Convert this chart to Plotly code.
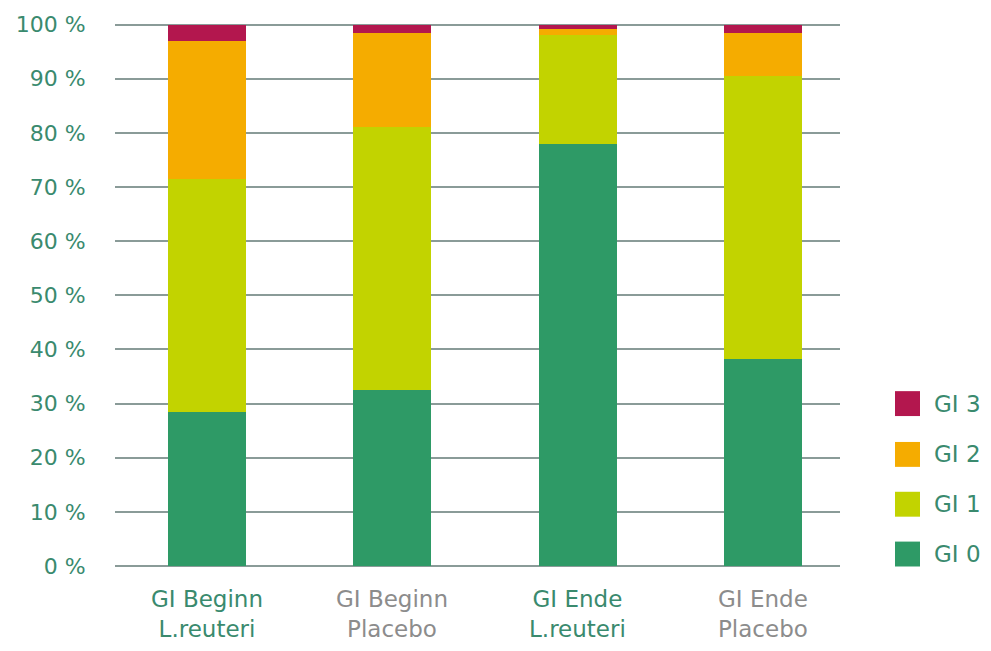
import plotly.graph_objects as go

categories = ["GI Beginn<br>L.reuteri", "GI Beginn<br>Placebo", "GI Ende<br>L.reuteri", "GI Ende<br>Placebo"]
series_names = ["GI 0", "GI 1", "GI 2", "GI 3"]
gi0 = [28.5, 32.5, 78.0, 38.3]
gi1 = [43.0, 48.5, 20.0, 52.3]
gi2 = [25.5, 17.5, 1.2, 7.8]
gi3 = [3.0, 1.5, 0.8, 1.6]
series_values = [gi0, gi1, gi2, gi3]
colors = ["#2e9a66", "#c2d300", "#f5ac00", "#b3174e"]
label_colors = ["#3a8a6e", "#8c8c8c", "#3a8a6e", "#8c8c8c"]
y_ticks = [0, 10, 20, 30, 40, 50, 60, 70, 80, 90, 100]
y_tick_labels = [f"{v} %" for v in y_ticks]

FONT = "DejaVu Sans"
W, H = 991, 651
L, R, T, B = 115, 151, 21, 85

fig = go.Figure()
xs = list(range(len(categories)))
for name, vals, col in zip(series_names, series_values, colors):
    fig.add_trace(go.Bar(x=xs, y=vals, name=name, marker=dict(color=col, line=dict(width=0)),
                         width=0.42, showlegend=False))

annotations = []
for i, (cat, lc) in enumerate(zip(categories, label_colors)):
    annotations.append(dict(x=i, y=0, xref="x", yref="paper", text=cat, showarrow=False,
                            yanchor="top", yshift=-18, font=dict(family=FONT, size=23, color=lc),
                            align="center"))

pw = W - L - R
ph = H - T - B
leg_centers = [554, 504, 454, 403]
for name, col, cy in zip(series_names, colors, leg_centers):
    x0 = (895 - L) / pw
    x1 = (920 - L) / pw
    y0 = (H - B - (cy + 12.5)) / ph
    y1 = (H - B - (cy - 12.5)) / ph
    fig.add_shape(type="rect", xref="paper", yref="paper", x0=x0, x1=x1, y0=y0, y1=y1,
                  fillcolor=col, line=dict(width=0))
    annotations.append(dict(x=(932 - L) / pw, y=(H - B - cy) / ph, xref="paper", yref="paper",
                            text=name, showarrow=False, xanchor="left", yanchor="middle",
                            font=dict(family=FONT, size=23, color="#3a8a6e")))

fig.update_layout(
    width=W, height=H,
    margin=dict(l=L, r=R, t=T, b=B),
    barmode="stack",
    plot_bgcolor="white", paper_bgcolor="white",
    font=dict(family=FONT, size=22, color="#3a8a6e"),
    annotations=annotations,
    xaxis=dict(range=[-0.496, 3.415], showticklabels=False, showgrid=False, zeroline=False,
               showline=False, fixedrange=True),
    yaxis=dict(range=[0, 100.3], tickmode="array", tickvals=y_ticks, ticktext=y_tick_labels,
               showgrid=True, gridcolor="#8a9b98", gridwidth=2,
               zeroline=True, zerolinecolor="#8a9b98", zerolinewidth=2, showline=False,
               ticks="outside", ticklen=24, tickcolor="rgba(0,0,0,0)",
               tickfont=dict(family=FONT, size=22, color="#3a8a6e")),
)

fig.write_html("out.html")
